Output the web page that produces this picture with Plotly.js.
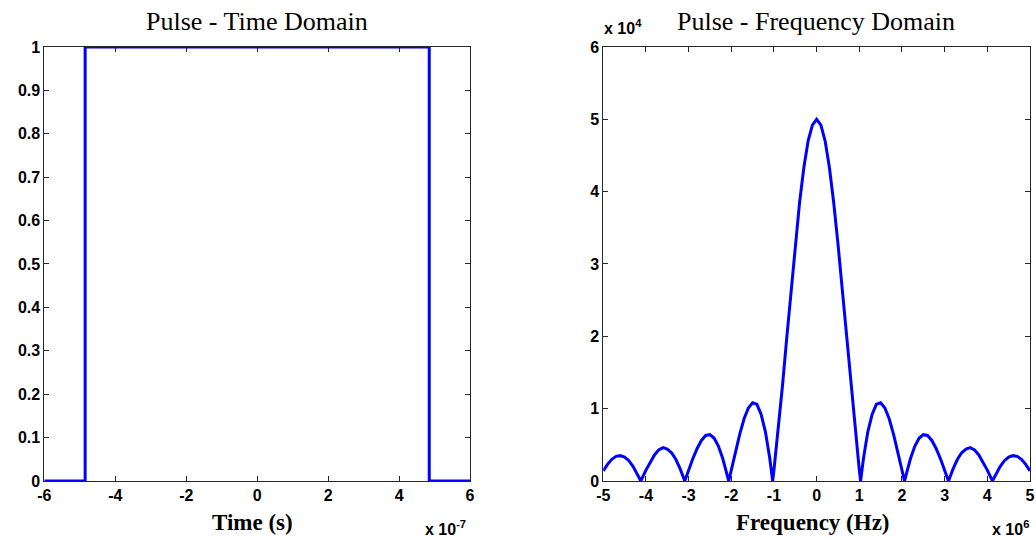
<!DOCTYPE html>
<html>
<head>
<meta charset="utf-8">
<script src="https://cdn.plot.ly/plotly-3.0.1.min.js"></script>
<style>html,body{margin:0;padding:0;background:#fff;}#chart{width:1036px;height:540px;}</style>
</head>
<body>
<div id="chart"></div>
<script>
// Time-domain pulse (time in units of 1e-7 s)
var timeX = [-6, -4.85, -4.85, 4.85, 4.85, 6];
var pulseY = [0, 0, 1, 1, 0, 0];

// Frequency-domain magnitude (frequency in units of 1e6 Hz, magnitude in units of 1e4)
var freqX = [-5.0, -4.9, -4.8, -4.7, -4.6, -4.5, -4.4, -4.3, -4.2, -4.12,
  -4.0, -3.9, -3.8, -3.7, -3.6, -3.5, -3.4, -3.3, -3.2, -3.09,
  -3.0, -2.9, -2.8, -2.7, -2.6, -2.5, -2.4, -2.3, -2.2, -2.1, -2.06,
  -2.0, -1.9, -1.8, -1.7, -1.6, -1.5, -1.4, -1.3, -1.2, -1.1, -1.03,
  -1.0, -0.9, -0.8, -0.7, -0.6, -0.5, -0.4, -0.3, -0.2, -0.1,
  0.0,
  0.1, 0.2, 0.3, 0.4, 0.5, 0.6, 0.7, 0.8, 0.9, 1.0,
  1.03, 1.1, 1.2, 1.3, 1.4, 1.5, 1.6, 1.7, 1.8, 1.9, 2.0,
  2.06, 2.1, 2.2, 2.3, 2.4, 2.5, 2.6, 2.7, 2.8, 2.9, 3.0,
  3.09, 3.2, 3.3, 3.4, 3.5, 3.6, 3.7, 3.8, 3.9, 4.0,
  4.12, 4.2, 4.3, 4.4, 4.5, 4.6, 4.7, 4.8, 4.9, 5.0];
var magY = [0.14, 0.23, 0.30, 0.34, 0.35, 0.33, 0.28, 0.20, 0.09, 0,
  0.15, 0.26, 0.36, 0.43, 0.46, 0.44, 0.39, 0.30, 0.17, 0,
  0.15, 0.31, 0.45, 0.56, 0.63, 0.64, 0.59, 0.48, 0.31, 0.09, 0,
  0.15, 0.41, 0.65, 0.86, 1.01, 1.08, 1.06, 0.92, 0.68, 0.32, 0,
  0.15, 0.70, 1.32, 1.98, 2.64, 3.28, 3.85, 4.33, 4.70, 4.92,
  5.00,
  4.92, 4.70, 4.33, 3.85, 3.28, 2.64, 1.98, 1.32, 0.70, 0.15,
  0, 0.32, 0.68, 0.92, 1.06, 1.08, 1.01, 0.86, 0.65, 0.41, 0.15,
  0, 0.09, 0.31, 0.48, 0.59, 0.64, 0.63, 0.56, 0.45, 0.31, 0.15,
  0, 0.17, 0.30, 0.39, 0.44, 0.46, 0.43, 0.36, 0.26, 0.15,
  0, 0.09, 0.20, 0.28, 0.33, 0.35, 0.34, 0.30, 0.23, 0.14];

var timeTicks = [-6, -4, -2, 0, 2, 4, 6];
var timeTickText = ['-6', '-4', '-2', '0', '2', '4', '6'];
var pulseTicks = [0, 0.1, 0.2, 0.3, 0.4, 0.5, 0.6, 0.7, 0.8, 0.9, 1];
var pulseTickText = ['0', '0.1', '0.2', '0.3', '0.4', '0.5', '0.6', '0.7', '0.8', '0.9', '1'];
var freqTicks = [-5, -4, -3, -2, -1, 0, 1, 2, 3, 4, 5];
var freqTickText = ['-5', '-4', '-3', '-2', '-1', '0', '1', '2', '3', '4', '5'];
var magTicks = [0, 1, 2, 3, 4, 5, 6];
var magTickText = ['0', '1', '2', '3', '4', '5', '6'];

var lineColor = '#0000ff';
var axisColor = '#262626';
var tickFont = {family: '"Liberation Sans", Arial, sans-serif', size: 16, color: '#000', weight: 'bold'};

function axisBase(extra) {
  var a = {
    showgrid: false, zeroline: false, showline: true, linecolor: axisColor, linewidth: 1,
    mirror: 'ticks', ticks: 'inside', ticklen: 5, tickcolor: axisColor, tickwidth: 1,
    tickfont: tickFont, layer: 'below traces', fixedrange: true
  };
  for (var k in extra) a[k] = extra[k];
  return a;
}

var traces = [
  {x: timeX, y: pulseY, type: 'scatter', mode: 'lines', line: {color: lineColor, width: 3},
   xaxis: 'x', yaxis: 'y', cliponaxis: false, hoverinfo: 'skip'},
  {x: freqX, y: magY, type: 'scatter', mode: 'lines', line: {color: lineColor, width: 3},
   xaxis: 'x2', yaxis: 'y2', cliponaxis: false, hoverinfo: 'skip'}
];

var serif = '"Liberation Serif", "Times New Roman", serif';
var sans = '"Liberation Sans", Arial, sans-serif';

var layout = {
  width: 1036, height: 540,
  margin: {l: 0, r: 0, t: 0, b: 0},
  paper_bgcolor: '#fff', plot_bgcolor: '#fff',
  showlegend: false,
  xaxis: axisBase({domain: [0.0428, 0.4537], range: [-6, 6], tickvals: timeTicks, ticktext: timeTickText, anchor: 'y'}),
  yaxis: axisBase({domain: [0.1093, 0.9130], range: [0, 1], tickvals: pulseTicks, ticktext: pulseTickText, anchor: 'x'}),
  xaxis2: axisBase({domain: [0.5823, 0.9942], range: [-5, 5], tickvals: freqTicks, ticktext: freqTickText, anchor: 'y2'}),
  yaxis2: axisBase({domain: [0.1093, 0.9130], range: [0, 6], tickvals: magTicks, ticktext: magTickText, anchor: 'x2'}),
  annotations: [
    {text: 'Pulse - Time Domain', xref: 'paper', yref: 'paper', x: 0.2481, y: 0.961, xanchor: 'center', yanchor: 'middle', showarrow: false,
     font: {family: serif, size: 26, color: '#000'}},
    {text: 'Pulse - Frequency Domain', xref: 'paper', yref: 'paper', x: 0.7878, y: 0.961, xanchor: 'center', yanchor: 'middle', showarrow: false,
     font: {family: serif, size: 26, color: '#000'}},
    {text: 'Time (s)', xref: 'paper', yref: 'paper', x: 0.2437, y: 0.0315, xanchor: 'center', yanchor: 'middle', showarrow: false,
     font: {family: serif, size: 23, color: '#000', weight: 'bold'}},
    {text: 'Frequency (Hz)', xref: 'paper', yref: 'paper', x: 0.785, y: 0.0315, xanchor: 'center', yanchor: 'middle', showarrow: false,
     font: {family: serif, size: 23, color: '#000', weight: 'bold'}},
    {text: 'x 10<sup>-7</sup>', xref: 'paper', yref: 'paper', x: 468/1036, y: 1 - 528/540, xanchor: 'right', yanchor: 'middle', showarrow: false,
     font: {family: sans, size: 16, color: '#000', weight: 'bold'}},
    {text: 'x 10<sup>6</sup>', xref: 'paper', yref: 'paper', x: 1031/1036, y: 1 - 528/540, xanchor: 'right', yanchor: 'middle', showarrow: false,
     font: {family: sans, size: 16, color: '#000', weight: 'bold'}},
    {text: 'x 10<sup>4</sup>', xref: 'paper', yref: 'paper', x: 602/1036, y: 1 - 27/540, xanchor: 'left', yanchor: 'middle', showarrow: false,
     font: {family: sans, size: 16, color: '#000', weight: 'bold'}}
  ]
};

Plotly.newPlot('chart', traces, layout, {displayModeBar: false, staticPlot: true});
</script>
</body>
</html>
